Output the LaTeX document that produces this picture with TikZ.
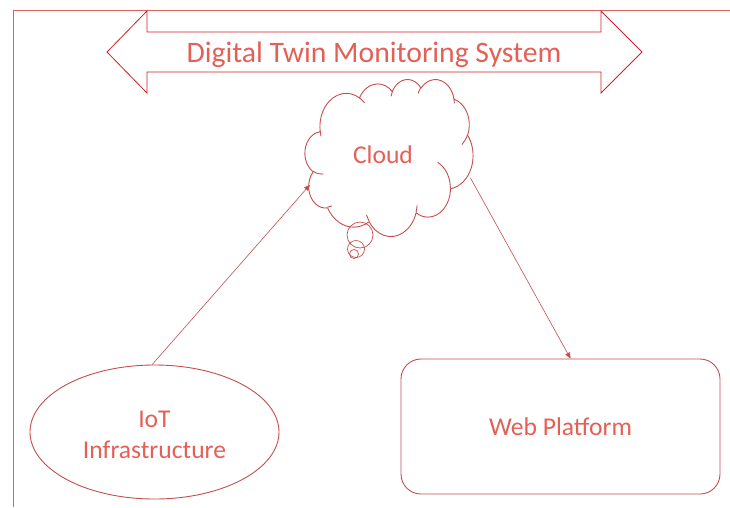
\documentclass[tikz,border=0pt]{standalone}
\usepackage{fontspec}
\setmainfont{Carlito}
\usetikzlibrary{shapes.geometric,arrows.meta}
\definecolor{txt}{RGB}{228,96,86}
\definecolor{outl}{RGB}{196,78,76}
\definecolor{arrred}{RGB}{210,30,40}
\definecolor{frame}{RGB}{214,100,100}
\tikzset{
  lbl/.style={text=txt, font=\fontsize{25.6}{31}\selectfont, align=center},
  shapeline/.style={draw=outl, line width=0.9pt},
  conn/.style={draw=outl, line width=0.6pt, -{Triangle[length=6pt,width=5pt]}},
}
\newcommand\cloudcalc[4]{%
  \pgfmathsetmacro\cst{#3}%
  \pgfmathsetmacro\cen{#3+#4}%
  \pgfmathsetmacro\tone{atan2(#1*sin(\cst),#2*cos(\cst))}%
  \pgfmathsetmacro\ttwo{atan2(#1*sin(\cen),#2*cos(\cen))}%
  \pgfmathsetmacro\tdel{mod(\ttwo-\tone+720,360)}%
  \xdef\csa{\tone}\xdef\cda{\tdel}\xdef\crx{#1}\xdef\cry{#2}}
\newcommand\carc[4]{\pgfextra{\cloudcalc{#1}{#2}{#3}{#4}} arc[start angle=\csa, delta angle=\cda, x radius=\crx, y radius=\cry]}
\begin{document}
\begin{tikzpicture}[x=1pt,y=-1pt]
\useasboundingbox (0,0) rectangle (730,507);
% frame lines
\draw[frame, line width=0.9pt] (13,507) -- (13,10) -- (730,10);
% double arrow
\draw[arrred, line width=0.8pt, line join=miter]
  (107,52) -- (147,11) -- (147,32) -- (601,32) -- (601,11) -- (642,52)
  -- (601,93) -- (601,72) -- (147,72) -- (147,93) -- cycle;
\node[lbl, font=\fontsize{29.7}{34}\selectfont] (title) at (374,55) {Digital Twin Monitoring System};
% cloud (invisible anchor node + drawn outline)
\node[ellipse, minimum width=168pt, minimum height=157pt, inner sep=0pt] (cloud) at (389,157.5) {};
\begin{scope}[shift={(305,79)}, x=0.388889pt, y=-0.363426pt]
\draw[shapeline, line join=round] (39.00,143.70)
  \carc{67.53}{91.90}{-190.4875}{123.7805}
  \carc{53.33}{72.67}{-144.1024}{89.9452}
  \carc{43.65}{59.45}{-145.8079}{99.7230}
  \carc{48.57}{65.95}{-130.9861}{117.2417}
  \carc{53.33}{72.73}{-78.7089}{109.0269}
  \carc{67.75}{92.20}{-46.2673}{130.2690}
  \carc{57.85}{78.67}{0.6250}{114.0333}
  \carc{67.52}{92.15}{22.4516}{115.1726}
  \carc{77.20}{105.43}{66.2426}{75.7110}
  \carc{43.60}{59.18}{-274.9421}{146.7356}
  \carc{43.45}{59.45}{-246.8285}{152.5189}
  -- cycle;
\draw[shapeline]
  (46.93,261.77) \carc{43.45}{59.45}{86.7420}{26.4295}
  (69.28,348.99) \carc{43.60}{59.18}{73.6105}{11.4475}
  (164.78,390.90) \carc{67.52}{92.15}{137.6242}{14.0811}
  (288.27,347.51) \carc{67.52}{92.15}{6.4533}{15.9984}
  (341.29,229.54) \carc{57.85}{78.67}{-70.2924}{70.9174}
  (417.98,153.54) \carc{53.33}{72.73}{30.3180}{27.7515}
  (383.24,54.26) \carc{48.57}{65.95}{-13.7443}{14.8589}
  (290.78,39.52) \carc{48.57}{65.95}{-149.1815}{18.1954}
  (221.41,47.20) \carc{43.65}{59.45}{-163.4943}{17.6864}
  (140.00,51.92) \carc{67.53}{91.90}{-66.7070}{12.3194}
  (41.27,157.89) \carc{67.53}{91.90}{157.6544}{11.8582};
\end{scope}
\node[lbl] (cloudtxt) at (383,155) {Cloud};
\draw[shapeline, line width=0.7pt] (360,235) circle[radius=13];
\draw[shapeline, line width=0.7pt] (356,249) circle[radius=8.5];
\draw[shapeline, line width=0.7pt] (354,254) circle[radius=4.5];
% IoT ellipse
\node[ellipse, shapeline, minimum width=249pt, minimum height=134pt, inner sep=0pt] (iot) at (154.5,432) {};
\node[lbl] (iottxt) at (154.5,435) {IoT\\Infrastructure};
% web box
\node[rectangle, rounded corners=20pt, shapeline, minimum width=319pt, minimum height=135pt, lbl] (web) at (560.5,426.5) {Web Platform};
% connectors
\draw[conn] (iot.92) -- (cloud.199);
\draw[conn] (cloud.-14) -- ([xshift=10pt]web.north);
\end{tikzpicture}
\end{document}
